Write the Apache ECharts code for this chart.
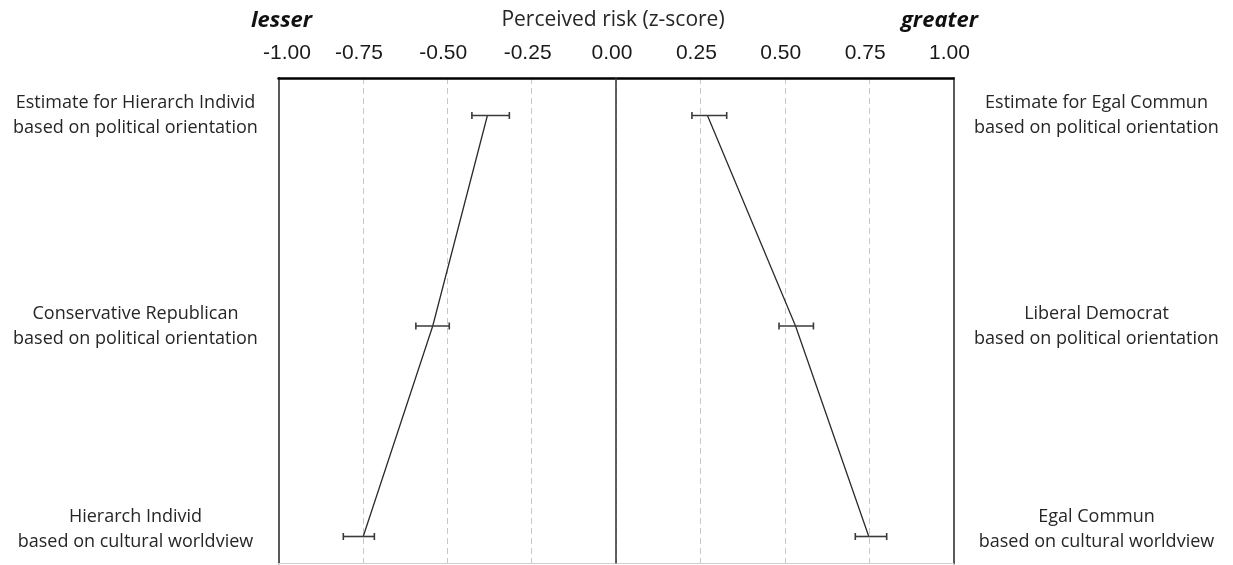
<!DOCTYPE html>
<html>
<head>
<meta charset="utf-8">
<script src="https://cdn.jsdelivr.net/npm/echarts@6/dist/echarts.min.js"></script>
<style>
html,body{margin:0;padding:0;background:#fff;}
#c{width:1233px;height:565px;}
</style>
</head>
<body>
<div id="c"></div>
<script>
// ---- data ----
var rowLevels = [3, 2, 1]; // top to bottom
var leftLabels = ['Estimate for Hierarch Individ\nbased on political orientation',
                  'Conservative Republican\nbased on political orientation',
                  'Hierarch Individ\nbased on cultural worldview'];
var rightLabels = ['Estimate for Egal Commun\nbased on political orientation',
                   'Liberal Democrat\nbased on political orientation',
                   'Egal Commun\nbased on cultural worldview'];
var leftMeans = [-0.381, -0.543, -0.749];
var leftLow   = [-0.427, -0.593, -0.808];
var leftHigh  = [-0.316, -0.494, -0.716];
var rightMeans = [0.271, 0.532, 0.749];
var rightLow   = [0.225, 0.483, 0.709];
var rightHigh  = [0.328, 0.585, 0.802];
var xTicks = [-1, -0.75, -0.5, -0.25, 0, 0.25, 0.5, 0.75, 1];
var axisTitle = 'Perceived risk (z-score)';
var lowWord = 'lesser', highWord = 'greater';

var labelFont = '"Open Sans", "Noto Sans", sans-serif';
var tickFont = '"Liberation Sans", Arial, sans-serif';

function pairs(xs){ return xs.map(function(v,i){ return [v, rowLevels[i]]; }); }
function errData(lo, hi){ return lo.map(function(v,i){ return [v, hi[i], rowLevels[i]]; }); }

function renderErr(params, api){
  var p1 = api.coord([api.value(0), api.value(2)]);
  var p2 = api.coord([api.value(1), api.value(2)]);
  var h = 3.5;
  var st = {stroke:'#3a3a3a', lineWidth:1.6};
  return {type:'group', children:[
    {type:'line', shape:{x1:p1[0],y1:p1[1],x2:p2[0],y2:p2[1]}, style:st},
    {type:'line', shape:{x1:p1[0],y1:p1[1]-h,x2:p1[0],y2:p1[1]+h}, style:st},
    {type:'line', shape:{x1:p2[0],y1:p2[1]-h,x2:p2[0],y2:p2[1]+h}, style:st}
  ]};
}

function rowLabel(list){
  return function(v){
    var i = rowLevels.indexOf(Math.round(v));
    if (i < 0) return '';
    var style = (i === list.length - 1) ? 'low' : 'n';
    return list[i].split('\n').map(function(s){ return '{' + style + '|' + s + '}'; }).join('\n');
  };
}
var richStyles = {
  n:{fontFamily:labelFont, fontSize:18, color:'#262626', lineHeight:25},
  low:{fontFamily:labelFont, fontSize:18, color:'#262626', lineHeight:25, padding:[0,0,14,0]}
};

var chart = echarts.init(document.getElementById('c'));
var option = {
  animation:false,
  backgroundColor:'#fff',
  title:[
    {text:axisTitle, left:608, top:5, textAlign:'center',
     textStyle:{fontFamily:labelFont, fontSize:21, fontWeight:'normal', color:'#262626'}},
    {text:lowWord, left:246, top:5,
     textStyle:{fontFamily:labelFont, fontSize:22, fontWeight:'bold', fontStyle:'italic', color:'#111'}},
    {text:highWord, left:973, top:5, textAlign:'right',
     textStyle:{fontFamily:labelFont, fontSize:22, fontWeight:'bold', fontStyle:'italic', color:'#111'}}
  ],
  grid:{left:278.5, right:1233-953.5, top:78, bottom:1, containLabel:false},
  xAxis:[{
    type:'value', position:'top', min:-1, max:1, interval:0.25,
    axisLine:{show:true, lineStyle:{color:'#000', width:2.5}},
    axisTick:{show:false},
    axisLabel:{margin:14, color:'#1a1a1a',
      rich:{
        t:{fontFamily:tickFont, fontSize:21, color:'#1a1a1a', padding:[0,8,0,0]},
        f:{fontFamily:tickFont, fontSize:21, color:'#1a1a1a', padding:[0,0,0,17]}
      },
      formatter:function(v){ return (v === xTicks[0] ? '{f|' : '{t|') + v.toFixed(2) + '}'; }},
    splitLine:{show:true, lineStyle:{color:'#c8c8c8', type:[6,4], width:1}}
  },{
    type:'value', position:'bottom', min:-1, max:1,
    axisLine:{show:true, onZero:false, lineStyle:{color:'#d0d0d0', width:1}},
    axisTick:{show:false}, axisLabel:{show:false}, splitLine:{show:false}
  }],
  yAxis:[{
    type:'value', position:'left', min:0.872, max:3.178,
    axisLine:{show:true, onZero:false, lineStyle:{color:'#595959', width:2}},
    axisTick:{show:false}, splitLine:{show:false},
    axisLabel:{show:true, customValues:rowLevels, align:'center', margin:143,
      rich:richStyles, formatter:rowLabel(leftLabels)}
  },{
    type:'value', position:'right', min:0.872, max:3.178,
    axisLine:{show:true, onZero:false, lineStyle:{color:'#595959', width:2}},
    axisTick:{show:false}, splitLine:{show:false},
    axisLabel:{show:true, customValues:rowLevels, align:'center', margin:143,
      rich:richStyles, formatter:rowLabel(rightLabels)}
  }],
  series:[
    {type:'line', data:pairs(leftMeans), symbol:'none', lineStyle:{color:'#2b2b2b', width:1.3},
     markLine:{silent:true, symbol:'none', label:{show:false},
       lineStyle:{color:'#3a3a3a', type:'solid', width:1.6}, data:[{xAxis:0}]}},
    {type:'line', data:pairs(rightMeans), symbol:'none', lineStyle:{color:'#2b2b2b', width:1.3}},
    {type:'custom', renderItem:renderErr, data:errData(leftLow, leftHigh), encode:{x:[0,1], y:2}, z:5},
    {type:'custom', renderItem:renderErr, data:errData(rightLow, rightHigh), encode:{x:[0,1], y:2}, z:5}
  ]
};
chart.setOption(option);
</script>
</body>
</html>
